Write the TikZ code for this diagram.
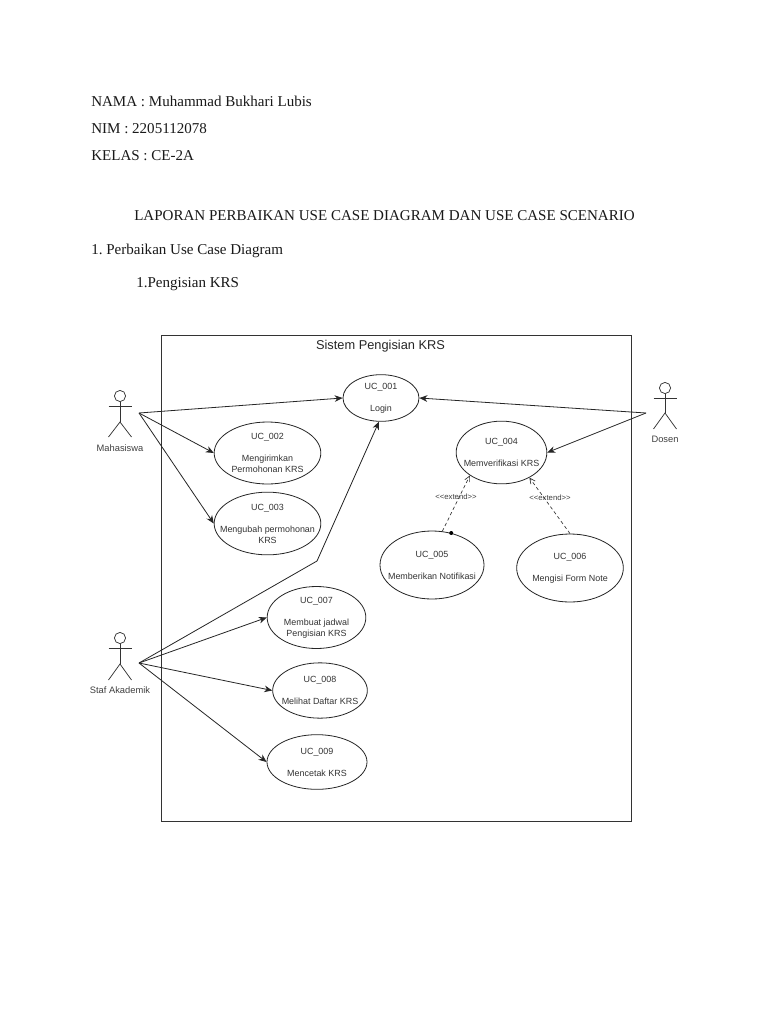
\documentclass[tikz,border=0pt]{standalone}
\usepackage{fontspec}
\setmainfont{Liberation Serif}
\setsansfont{Liberation Sans}
\usetikzlibrary{shapes.geometric,arrows.meta}
\tikzset{
  doc/.style={anchor=base west,inner sep=0pt,font=\rmfamily\fontsize{11.28}{14}\selectfont\frenchspacing,text=black!90},
  uctext/.style={inner sep=0pt,align=center,text=black!80,font=\sffamily\fontsize{6.7}{8.25}\selectfont},
  uc/.style={ellipse,draw=black!85,line width=0.6pt,fill=white,inner sep=0pt},
  actorlabel/.style={inner sep=0pt,text=black!75,font=\sffamily\fontsize{7}{8}\selectfont},
  stick/.style={draw=black!80,line width=0.55pt},
  assoc/.style={draw=black!85,line width=0.6pt,-{Stealth[length=6pt,width=5pt]}},
  ext/.style={draw=black!80,line width=0.5pt,dashed,dash pattern=on 2.5pt off 2pt,-{Straight Barb[length=4pt,width=4pt]}},
  extlabel/.style={inner sep=0.5pt,text=black!75,font=\sffamily\fontsize{5.8}{6}\selectfont},
  sys/.style={draw=black!80,line width=0.65pt,inner sep=0pt},
  systitle/.style={inner sep=0pt,text=black!85,font=\sffamily\fontsize{9.6}{11}\selectfont}
}
\newcommand{\actorfig}[5]{%
  \draw[stick] (#1,#2) circle (4.2pt);
  \draw[stick] (#1,#2+5.6) -- (#1,#4);
  \draw[stick] (#1-11.5,#3) -- (#1+11.5,#3);
  \draw[stick] (#1-11.5,#5) -- (#1,#4) -- (#1+11.5,#5);
}
\begin{document}
\begin{tikzpicture}[x=0.75pt,y=-0.75pt]
\useasboundingbox (0,0) rectangle (768,1024);
\fill[white] (0,0) rectangle (768,1024);
\node[doc] (t1) at (91,107) {NAMA : Muhammad Bukhari Lubis};
\node[doc] (t2) at (91,133.5) {NIM : 2205112078};
\node[doc] (t3) at (91,160.5) {KELAS : CE-2A};
\node[doc] (t4) at (134,220) {LAPORAN PERBAIKAN USE CASE DIAGRAM DAN USE CASE SCENARIO};
\node[doc] (t5) at (91,254.5) {1. Perbaikan Use Case Diagram};
\node[doc] (t6) at (136,287.5) {1.Pengisian KRS};

\node[sys,minimum width=352.5pt,minimum height=364.5pt] (frame) at (396,578) {};
\node[systitle] (title) at (380.5,346) {Sistem Pengisian KRS};

\actorfig{120}{396}{406}{422}{437}
\actorfig{120}{638}{648}{664}{680}
\actorfig{665}{388}{398}{413}{429}
\node[actorlabel] (lm) at (120,448) {Mahasiswa};
\node[actorlabel] (ls) at (120,690) {Staf Akademik};
\node[actorlabel] (ld) at (665,439) {Dosen};

\coordinate (mhs) at (139,413);
\coordinate (staf) at (139,663);
\coordinate (dsn) at (646,413);
\coordinate (bend) at (317,561);

\node[uc,minimum width=57pt,minimum height=35pt,label={[uctext]center:{UC\_001\\[8.25pt]Login}}] (uc1) at (381,398) {};
\node[uc,minimum width=80pt,minimum height=46.5pt,label={[uctext]center:{UC\_002\\[8.25pt]Mengirimkan\\Permohonan KRS}}] (uc2) at (267.5,453) {};
\node[uc,minimum width=80pt,minimum height=47pt,label={[uctext]center:{UC\_003\\[8.25pt]Mengubah permohonan\\KRS}}] (uc3) at (267.5,523.5) {};
\node[uc,minimum width=68pt,minimum height=47pt,label={[uctext]center:{UC\_004\\[8.25pt]Memverifikasi KRS}}] (uc4) at (501.5,452.5) {};
\node[uc,minimum width=78pt,minimum height=51pt,label={[uctext]center:{UC\_005\\[8.25pt]Memberikan Notifikasi}}] (uc5) at (432,565) {};
\node[uc,minimum width=80pt,minimum height=51pt,label={[uctext]center:{UC\_006\\[8.25pt]Mengisi Form Note}}] (uc6) at (570,568) {};
\node[uc,minimum width=74pt,minimum height=46.5pt,label={[uctext]center:{UC\_007\\[8.25pt]Membuat jadwal\\Pengisian KRS}}] (uc7) at (316.5,617.5) {};
\node[uc,minimum width=71pt,minimum height=41.5pt,label={[uctext]center:{UC\_008\\[8.25pt]Melihat Daftar KRS}}] (uc8) at (320,690.5) {};
\node[uc,minimum width=75pt,minimum height=41pt,label={[uctext]center:{UC\_009\\[8.25pt]Mencetak KRS}}] (uc9) at (317,762) {};

\draw[assoc] (mhs) -- (uc1.west);
\draw[assoc] (mhs) -- (uc2.west);
\draw[assoc] (mhs) -- (uc3.west);
\draw[assoc] (dsn) -- (uc1.east);
\draw[assoc] (dsn) -- (uc4.east);
\draw[assoc] (staf) -- (bend) -- (uc1.265);
\draw[assoc] (staf) -- (uc7.west);
\draw[assoc] (staf) -- (uc8.west);
\draw[assoc] (staf) -- (uc9.west);

\draw[ext] (uc5.73) -- (uc4.216);
\draw[ext] (uc6.north) -- (uc4.-42);
\fill[black] (uc5.59) circle (1.5pt);
\node[extlabel] (e1) at (456,497) {<{}<extend>{}>};
\node[extlabel] (e2) at (550,498) {<{}<extend>{}>};
\end{tikzpicture}
\end{document}
